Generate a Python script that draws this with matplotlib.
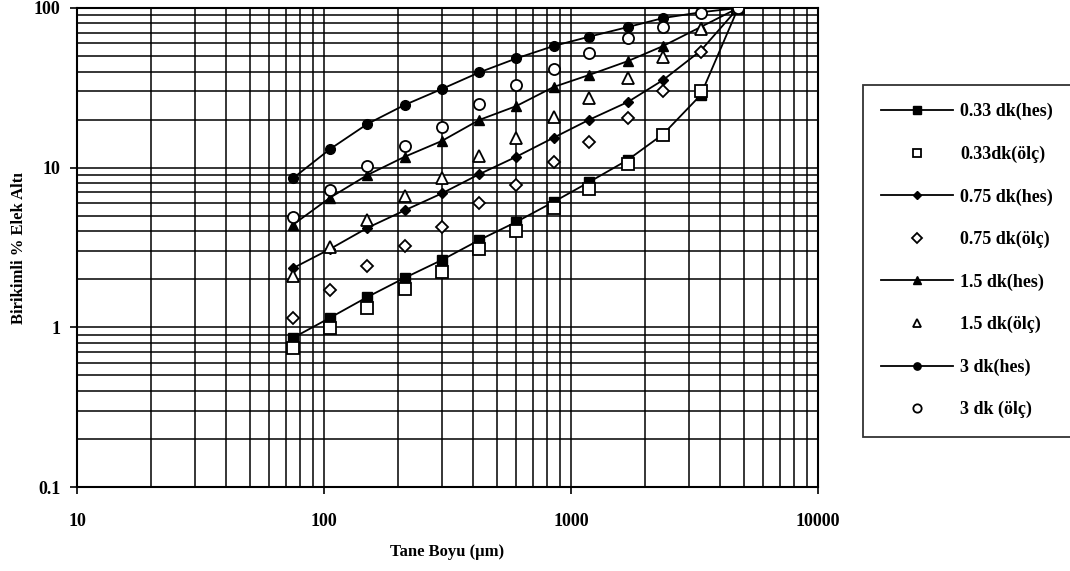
import matplotlib
matplotlib.use("Agg")
import matplotlib.pyplot as plt
from matplotlib.ticker import LogLocator, NullFormatter

# elek boyutlari (um)
sizes = [75, 106, 150, 212, 300, 425, 600, 850, 1180, 1700, 2360, 3350, 4750]

# birikimli % elek alti, hesaplanan / olculen
hes_033 = [0.86, 1.15, 1.55, 2.04, 2.64, 3.52, 4.57, 6.1, 8.1, 11.2, 16.2, 28.5, 100]
olc_033 = [0.74, 0.99, 1.32, 1.74, 2.22, 3.1, 4.0, 5.6, 7.4, 10.5, 16.0, 30.2, 100]
hes_075 = [2.35, 3.1, 4.2, 5.4, 6.9, 9.1, 11.7, 15.4, 19.9, 25.8, 35.4, 54, 100]
olc_075 = [1.15, 1.71, 2.42, 3.24, 4.26, 6.0, 7.8, 10.8, 14.5, 20.5, 30.2, 53, 100]
hes_15 = [4.4, 6.5, 9.0, 11.7, 14.7, 19.9, 24.3, 32.0, 38.0, 46.5, 57.8, 76, 100]
olc_15 = [2.1, 3.2, 4.7, 6.6, 8.6, 11.8, 15.3, 20.8, 27.3, 36.5, 49.3, 74, 100]
hes_3 = [8.6, 13.1, 18.8, 24.7, 31.1, 39.5, 48.3, 57.8, 66, 76, 86.5, 94, 100]
olc_3 = [4.9, 7.2, 10.3, 13.7, 18.0, 25.1, 33.0, 41.5, 52.3, 64.9, 76, 93, 100]

labels = ['0.33 dk(hes)', '0.33dk(ölç)', '0.75 dk(hes)', '0.75 dk(ölç)',
          '1.5 dk(hes)', '1.5 dk(ölç)', '3 dk(hes)', '3 dk (ölç)']
xticks = [10, 100, 1000, 10000]
yticks = [0.1, 1, 10, 100]

plt.rcParams['font.family'] = ['Liberation Serif', 'DejaVu Serif']
plt.rcParams['font.weight'] = 'bold'

fig = plt.figure(figsize=(10.7, 5.71), dpi=100)
ax = fig.add_axes([77 / 1070, 1 - 487 / 571, (818 - 77) / 1070, (487 - 8) / 571])

series = [(hes_033, 's', True), (olc_033, 's', False),
          (hes_075, 'D', True), (olc_075, 'D', False),
          (hes_15, '^', True), (olc_15, '^', False),
          (hes_3, 'o', True), (olc_3, 'o', False)]

for (vals, mk, calc), lab in zip(series, labels):
    ms = 5.5 if mk == 'D' else 7
    if calc:
        ax.plot(sizes, vals, color='black', lw=1.3, marker=mk, ms=ms,
                mfc='black', mec='black', label=lab, zorder=4)
    else:
        ax.plot(sizes, vals, ls='none', marker=mk, ms=ms + 1, mfc='white',
                mec='black', mew=1.3, label=lab, zorder=5)

ax.set_xscale('log')
ax.set_yscale('log')
ax.set_xlim(10, 10000)
ax.set_ylim(0.1, 100)
ax.set_xticks(xticks)
ax.set_xticklabels([str(t) for t in xticks])
ax.set_yticks(yticks)
ax.set_yticklabels(['0.1', '1', '10', '100'])
ax.xaxis.set_minor_locator(LogLocator(base=10, subs=range(2, 10)))
ax.yaxis.set_minor_locator(LogLocator(base=10, subs=range(2, 10)))
ax.xaxis.set_minor_formatter(NullFormatter())
ax.yaxis.set_minor_formatter(NullFormatter())
ax.tick_params(which='major', direction='out', length=5, width=1.2,
               labelsize=13, pad=7)
ax.tick_params(axis='x', which='major', pad=14)
ax.tick_params(which='minor', length=0)
ax.grid(which='both', color='black', lw=1.1)
for sp in ax.spines.values():
    sp.set_linewidth(1.5)

ax.set_xlabel('Tane Boyu (µm)', fontsize=12, fontweight='bold', labelpad=10)
ax.set_ylabel('Birikimli % Elek Altı', fontsize=12, fontweight='bold', labelpad=5)

leg = fig.legend(loc='upper left', bbox_to_anchor=(863 / 1070, 1 - 85 / 571),
                 borderaxespad=0, fontsize=13, frameon=True, fancybox=False,
                 edgecolor='black', handlelength=4.0, labelspacing=1.4,
                 borderpad=1.0, handletextpad=0.4, markerscale=0.75)
leg.get_frame().set_linewidth(1.3)

fig.savefig('out.png', dpi=100)
